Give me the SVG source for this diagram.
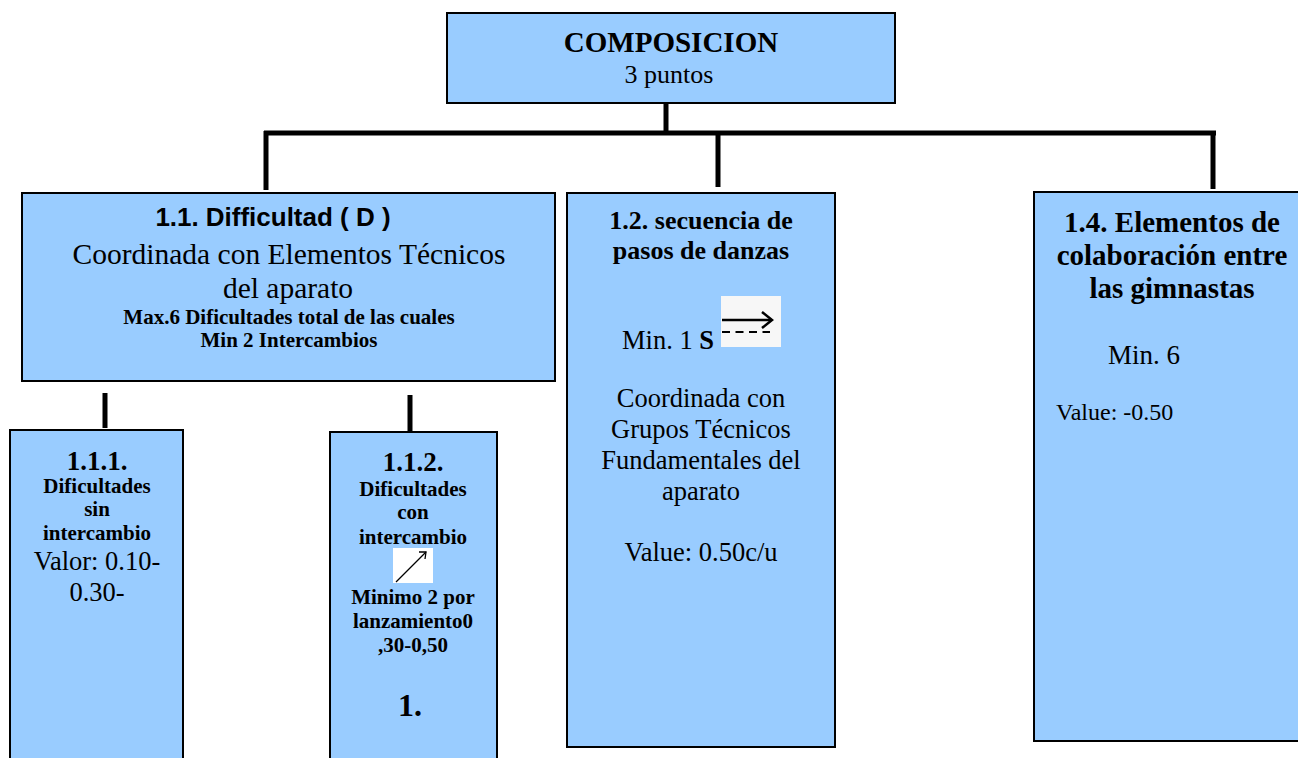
<svg xmlns="http://www.w3.org/2000/svg" width="1298" height="758" viewBox="0 0 1298 758">
<style>
.box{fill:#99CCFF;stroke:#000;stroke-width:2}
.con{stroke:#000;stroke-width:5;fill:none}
text{font-family:"Liberation Serif","Times New Roman",serif;fill:#000;text-anchor:middle}
text.start{text-anchor:start}
.b{font-weight:bold}
.sans{font-family:"Liberation Sans",Arial,sans-serif;font-weight:bold}
</style>
<rect width="1298" height="758" fill="#fff"/>
<g id="connectors">
<line class="con" x1="666" y1="103" x2="666" y2="133"/>
<line class="con" x1="264" y1="133" x2="1216" y2="133"/>
<line class="con" x1="266" y1="131" x2="266" y2="190"/>
<line class="con" x1="718" y1="131" x2="718" y2="187"/>
<line class="con" x1="1213" y1="131" x2="1213" y2="189"/>
<line class="con" x1="105" y1="393" x2="105" y2="428"/>
<line class="con" x1="410" y1="395" x2="410" y2="431"/>
</g>
<g id="composicion">
<rect class="box" x="447" y="13" width="448" height="90"/>
<text x="671" y="52" class="b" font-size="29">COMPOSICION</text>
<text x="669" y="83" font-size="26">3 puntos</text>
</g>
<g id="dificultad">
<rect class="box" x="22" y="193" width="533" height="188"/>
<text x="273" y="226" class="sans" font-size="26">1.1.<tspan dx="7">Difficultad ( D )</tspan></text>
<text x="289" y="264" font-size="29.5">Coordinada con Elementos Técnicos</text>
<text x="288" y="298" font-size="29.5">del aparato</text>
<text x="289" y="324" class="b" font-size="21">Max.6 Dificultades total de las cuales</text>
<text x="289" y="347" class="b" font-size="21">Min 2 Intercambios</text>
</g>
<g id="sin-intercambio">
<rect class="box" x="10" y="430" width="173" height="340"/>
<text x="97" y="470" class="b" font-size="27">1.1.1.</text>
<text x="97" y="493" class="b" font-size="21">Dificultades</text>
<text x="97" y="516" class="b" font-size="21">sin</text>
<text x="97" y="540" class="b" font-size="21">intercambio</text>
<text x="97" y="570" font-size="26.5">Valor: 0.10-</text>
<text x="97" y="601" font-size="26.5">0.30-</text>
</g>
<g id="con-intercambio">
<rect class="box" x="330" y="432" width="167" height="340"/>
<text x="413" y="471" class="b" font-size="27">1.1.2.</text>
<text x="413" y="496" class="b" font-size="21">Dificultades</text>
<text x="413" y="519" class="b" font-size="21">con</text>
<text x="413" y="544" class="b" font-size="21">intercambio</text>
<rect x="393" y="548" width="40" height="35" fill="#fff"/>
<line x1="396" y1="582" x2="426" y2="552" stroke="#000" stroke-width="1.3"/>
<polyline points="419,552 426,552 425,559" fill="none" stroke="#000" stroke-width="1.3"/>
<text x="413" y="604" class="b" font-size="21">Minimo 2 por</text>
<text x="413" y="628" class="b" font-size="21">lanzamiento0</text>
<text x="413" y="652" class="b" font-size="21">,30-0,50</text>
<text x="410" y="716" class="b" font-size="32">1.</text>
</g>
<g id="secuencia">
<rect class="box" x="567" y="193" width="268" height="554"/>
<text x="701" y="229" class="b" font-size="26">1.2. secuencia de</text>
<text x="701" y="259" class="b" font-size="26">pasos de danzas</text>
<text x="622" y="349" class="start" font-size="26.5">Min. 1 <tspan class="b">S</tspan></text>
<rect x="721" y="296" width="60" height="51" fill="#f7f7f7"/>
<line x1="722" y1="320" x2="771" y2="320" stroke="#000" stroke-width="2.5"/>
<polyline points="762,312 772,320 762,328" fill="none" stroke="#000" stroke-width="2.5"/>
<line x1="722" y1="332" x2="770" y2="332" stroke="#000" stroke-width="2" stroke-dasharray="8,5.5"/>
<text x="701" y="407" font-size="26.5">Coordinada con</text>
<text x="701" y="438" font-size="26.5">Grupos Técnicos</text>
<text x="701" y="469" font-size="26.5">Fundamentales del</text>
<text x="701" y="500" font-size="26.5">aparato</text>
<text x="701" y="561" font-size="26.5">Value: 0.50c/u</text>
</g>
<g id="colaboracion">
<rect class="box" x="1034" y="192" width="276" height="549"/>
<text x="1172" y="232" class="b" font-size="29">1.4. Elementos de</text>
<text x="1172" y="265" class="b" font-size="29">colaboración entre</text>
<text x="1172" y="298" class="b" font-size="29">las gimnastas</text>
<text x="1144" y="364" font-size="27">Min. 6</text>
<text x="1056" y="420" class="start" font-size="24">Value: -0.50</text>
</g>
</svg>
